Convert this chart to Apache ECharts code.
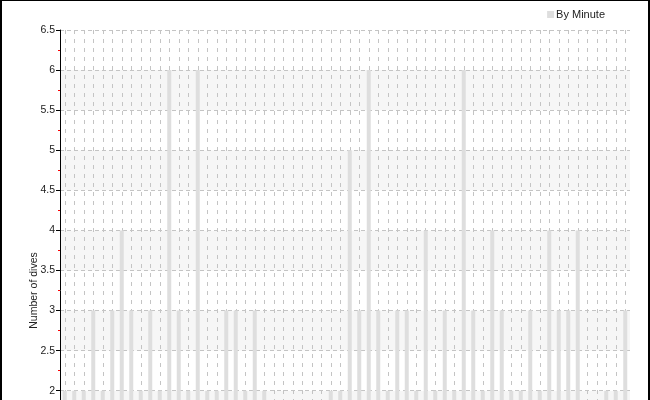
<!DOCTYPE html>
<html>
<head>
<meta charset="utf-8">
<script src="https://cdn.jsdelivr.net/npm/echarts@6/dist/echarts.min.js"></script>
<style>
  html, body { margin: 0; padding: 0; background: #ffffff; overflow: hidden; }
  #wrap { position: relative; width: 650px; height: 400px; overflow: hidden; }
  #chart { position: absolute; left: 0; top: 0; width: 650px; height: 600px; }
  #frame { position: absolute; left: 0; top: 0; width: 650px; height: 420px; box-sizing: border-box;
           border-left: 2px solid #000; border-top: 1px solid #000; border-right: 2px solid #000; pointer-events: none; }
</style>
</head>
<body>
<div id="wrap">
  <div id="chart"></div>
  <div id="frame"></div>
</div>
<script>
// Minute of the hour (0-59)
var minutes = [];
for (var m = 0; m < 60; m++) { minutes.push(String(m)); }

// Number of dives per minute
var divesByMinute = [
  2, 2, 2, 3, 2, 3, 4, 3, 2, 3,
  2, 6, 3, 2, 6, 2, 2, 3, 3, 2,
  3, 2, 1, 1, 1, 1, 1, 1, 2, 2,
  5, 3, 6, 3, 2, 3, 3, 2, 4, 2,
  3, 2, 6, 3, 2, 4, 3, 2, 2, 3,
  2, 4, 3, 3, 4, 1, 1, 2, 2, 3
];

var seriesName = 'By Minute';
var yAxisName = 'Number of dives';

var chart = echarts.init(document.getElementById('chart'), null, { renderer: 'canvas' });
chart.setOption({
  animation: false,
  backgroundColor: '#ffffff',
  textStyle: { fontFamily: 'Liberation Sans' },
  legend: {
    data: [seriesName],
    right: 40,
    top: 4,
    itemWidth: 7,
    itemHeight: 7,
    itemGap: 4,
    icon: 'rect',
    textStyle: { fontSize: 11, color: '#222222', fontFamily: 'Liberation Sans', padding: [0, 0, 0, -3] }
  },
  grid: { left: 60, right: 20, top: 30, bottom: 49, containLabel: false },
  xAxis: {
    type: 'category',
    data: minutes,
    boundaryGap: true,
    axisLine: { show: true, lineStyle: { color: '#000' } },
    axisTick: { show: false },
    axisLabel: { show: false },
    splitLine: {
      show: true,
      alignWithLabel: true,
      interval: 0,
      lineStyle: { color: '#c4c4c4', type: [4, 5], width: 1 }
    }
  },
  yAxis: {
    type: 'value',
    min: 0,
    max: 6.5,
    interval: 0.5,
    name: yAxisName,
    nameLocation: 'middle',
    nameGap: 20,
    nameMoveOverlap: false,
    nameRotate: 90,
    nameTextStyle: { fontSize: 10.5, color: '#222222', fontFamily: 'Liberation Sans' },
    axisLine: { show: true, lineStyle: { color: '#000', width: 1 } },
    axisTick: { show: true, length: 4, lineStyle: { color: '#000' } },
    minorTick: { show: true, splitNumber: 2, length: 2, lineStyle: { color: '#ff0000' } },
    axisLabel: { fontSize: 10.5, color: '#222222', margin: 5, fontFamily: 'Liberation Sans' },
    splitLine: { show: true, lineStyle: { color: '#c4c4c4', type: [4, 3], width: 1 } },
    splitArea: { show: true, areaStyle: { color: ['#ffffff', '#f6f6f6'] } }
  },
  series: [{
    name: seriesName,
    type: 'bar',
    data: divesByMinute,
    barWidth: 4,
    itemStyle: { color: '#dedede' },
    z: 1
  }]
});
</script>
</body>
</html>
